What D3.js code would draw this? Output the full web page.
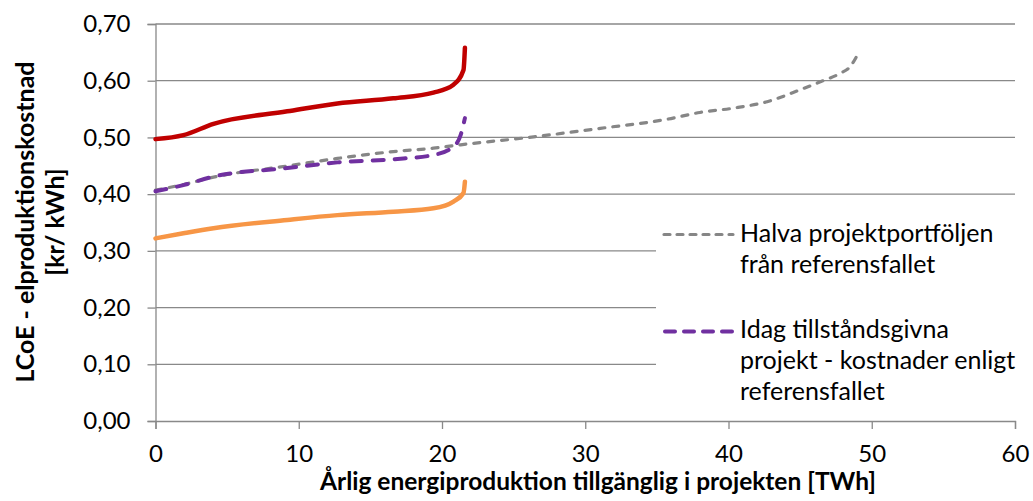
<!DOCTYPE html>
<html><head><meta charset="utf-8">
<script src="https://cdn.jsdelivr.net/npm/d3@7"></script>
<style>body{margin:0;background:#fff}svg{display:block}text{font-family:Lato,"Noto Sans",sans-serif;fill:#000}</style>
</head><body>
<svg id="c" width="1033" height="501"></svg>
<script>
const xTicks=[0,10,20,30,40,50,60];
const yTicks=[0,0.1,0.2,0.3,0.4,0.5,0.6,0.7];
const redX=[0,1.95,4.05,9.2,12.7,16.6,19.4,20.8,21.5,21.6];
const redY=[0.497,0.504,0.524,0.546,0.560,0.569,0.579,0.593,0.619,0.658];
const orangeX=[0,1.95,4.05,9.2,12.7,16.6,19.4,20.8,21.5,21.6];
const orangeY=[0.322,0.331,0.340,0.3545,0.363,0.369,0.375,0.387,0.402,0.422];
const purpleX=[0,1.95,4.05,9.2,12.7,16.6,19.4,20.8,21.3,21.6];
const purpleY=[0.405,0.416,0.431,0.446,0.456,0.4615,0.469,0.484,0.504,0.534];
const grayX=[0,1.95,4.05,9.2,12.7,16.6,19.4,21.3,26.4,31.05,35.7,38.0,40.3,42.7,45.0,46.6,47.8,48.5,49.0];
const grayY=[0.407,0.417,0.430,0.4497,0.463,0.475,0.481,0.487,0.501,0.516,0.532,0.544,0.5515,0.563,0.584,0.600,0.613,0.625,0.6455];
const legendLabels=[["Halva projektportföljen","från referensfallet"],["Idag tillståndsgivna","projekt - kostnader enligt","referensfallet"]];

const svg=d3.select("#c");
const x=d3.scaleLinear().domain([0,60]).range([155.5,1015]);
const y=d3.scaleLinear().domain([0,0.7]).range([421,24]);
const fmt=v=>v.toFixed(2).replace(".",",");

// gridlines
svg.append("g").selectAll("line").data(yTicks.filter(v=>v>0)).join("line")
  .attr("x1",x(0)).attr("x2",x(60)).attr("y1",d=>y(d)).attr("y2",d=>y(d))
  .attr("stroke","#898989").attr("stroke-width",1.3);

// axes
const ya=svg.append("g").attr("transform",`translate(${x(0)},0)`)
  .call(d3.axisLeft(y).tickValues(yTicks).tickFormat(fmt).tickSize(8).tickPadding(17));
const xa=svg.append("g").attr("transform",`translate(0,${y(0)})`)
  .call(d3.axisBottom(x).tickValues(xTicks).tickFormat(d=>d).tickSize(8).tickPadding(16));
[ya,xa].forEach(a=>{a.select(".domain").attr("stroke","#898989").attr("stroke-width",1.3);
  a.selectAll(".tick line").attr("stroke","#898989").attr("stroke-width",1.3);
  a.selectAll(".tick text").style("font-size","24px").style("font-family","Lato,sans-serif").attr("fill","#000");});

const line=d3.line().curve(d3.curveMonotoneX);
function draw(xs,ys,color,w,dash){
  svg.append("path").attr("d",line(xs.map((v,i)=>[x(v),y(ys[i])])))
   .attr("fill","none").attr("stroke",color).attr("stroke-width",w)
   .attr("stroke-dasharray",dash||null).attr("stroke-linecap","round");
}
draw(grayX,grayY,"#868686",3.2,"6,8");
draw(purpleX,purpleY,"#7030A0",4,"11,11");
draw(redX,redY,"#C00000",4.5);
draw(orangeX,orangeY,"#F79646",4.5);

// legend
const lg=svg.append("g");
lg.append("rect").attr("x",656).attr("y",216).attr("width",359).attr("height",198).attr("fill","#fff");
lg.append("line").attr("x1",664).attr("x2",733).attr("y1",234.5).attr("y2",234.5)
  .attr("stroke","#868686").attr("stroke-width",3.2).attr("stroke-dasharray","6,7").attr("stroke-linecap","round");
lg.append("line").attr("x1",665).attr("x2",733).attr("y1",331.5).attr("y2",331.5)
  .attr("stroke","#7030A0").attr("stroke-width",4).attr("stroke-dasharray","10,9").attr("stroke-linecap","round");
const ly=[[242,273],[338,369,400]];
legendLabels.forEach((ls,i)=>ls.forEach((t,j)=>lg.append("text").attr("x",740).attr("y",ly[i][j])
  .style("font-size","25px").text(t)));

// axis titles
svg.append("text").attr("x",598).attr("y",490).attr("text-anchor","middle")
  .style("font-size","24.5px").style("font-weight","bold").text("Årlig energiproduktion tillgänglig i projekten [TWh]");
const yt=svg.append("text").attr("transform","translate(0,222) rotate(-90)").attr("text-anchor","middle")
  .style("font-size","25px").style("font-weight","bold");
yt.append("tspan").attr("x",0).attr("y",34).text("LCoE - elproduktionskostnad");
yt.append("tspan").attr("x",0).attr("y",64).text("[kr/ kWh]");
</script>
</body></html>
